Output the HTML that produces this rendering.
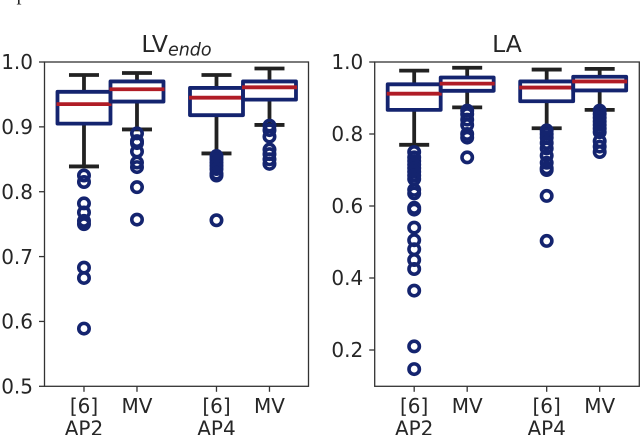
<!DOCTYPE html>
<html lang="en">
<head>
<meta charset="utf-8">
<title>Boxplots LV endo and LA</title>
<style>
html,body{margin:0;padding:0;background:#fff;width:640px;height:435px;overflow:hidden}
svg{display:block}
text{font-family:"DejaVu Sans","Liberation Sans",sans-serif;fill:#262626}
</style>
</head>
<body>
<svg id="chart" xmlns="http://www.w3.org/2000/svg" width="640" height="435" viewBox="0 0 640 435">
<text x="21.5" y="0" text-anchor="middle" style="font-family:'Liberation Serif',serif;font-size:20px">p</text>
</svg>
<script>
// Shared categories
const categoriesTop = ['[6]', 'MV', '[6]', 'MV'];
const categoriesBottom = ['AP2', '', 'AP4', ''];
const categoryPositions = [1, 2, 3.5, 4.5];

// LV endo panel
const lvTicks = [0.5, 0.6, 0.7, 0.8, 0.9, 1.0];
const lvQ1 = [0.905, 0.939, 0.918, 0.942];
const lvMedian = [0.935, 0.958, 0.945, 0.961];
const lvQ3 = [0.954, 0.970, 0.960, 0.970];
const lvWhiskerLow = [0.839, 0.896, 0.859, 0.903];
const lvWhiskerHigh = [0.980, 0.983, 0.980, 0.990];
const lvFliers = [
  [0.825, 0.815, 0.782, 0.768, 0.755, 0.750, 0.683, 0.667, 0.589],
  [0.890, 0.878, 0.875, 0.862, 0.845, 0.838, 0.807, 0.757],
  [0.855, 0.850, 0.845, 0.840, 0.835, 0.828, 0.825, 0.756],
  [0.902, 0.895, 0.885, 0.865, 0.858, 0.850, 0.843]
];

// LA panel
const laTicks = [0.2, 0.4, 0.6, 0.8, 1.0];
const laQ1 = [0.867, 0.920, 0.891, 0.921];
const laMedian = [0.912, 0.940, 0.929, 0.946];
const laQ3 = [0.938, 0.957, 0.946, 0.959];
const laWhiskerLow = [0.770, 0.874, 0.816, 0.867];
const laWhiskerHigh = [0.976, 0.984, 0.979, 0.981];
const laFliers = [
  [0.750, 0.735, 0.725, 0.715, 0.705, 0.695, 0.685, 0.675, 0.645, 0.635, 0.595, 0.590, 0.540, 0.505, 0.480, 0.450, 0.425, 0.365, 0.210, 0.147],
  [0.865, 0.855, 0.840, 0.825, 0.800, 0.790, 0.735],
  [0.810, 0.800, 0.790, 0.775, 0.760, 0.740, 0.720, 0.705, 0.700, 0.628, 0.503],
  [0.865, 0.855, 0.845, 0.835, 0.825, 0.815, 0.805, 0.780, 0.765, 0.750]
];

const NS = 'http://www.w3.org/2000/svg';
const svg = document.getElementById('chart');

function line(parent, x1, y1, x2, y2, color, width) {
  const el = document.createElementNS(NS, 'line');
  el.setAttribute('x1', x1);
  el.setAttribute('y1', y1);
  el.setAttribute('x2', x2);
  el.setAttribute('y2', y2);
  el.setAttribute('stroke', color);
  el.setAttribute('stroke-width', width);
  parent.appendChild(el);
  return el;
}

function label(parent, x, y, str, size, anchor) {
  const el = document.createElementNS(NS, 'text');
  el.setAttribute('x', x);
  el.setAttribute('y', y);
  el.setAttribute('font-size', size);
  el.setAttribute('text-anchor', anchor);
  el.textContent = str;
  parent.appendChild(el);
  return el;
}

function drawPanel(p) {
  const g = document.createElementNS(NS, 'g');
  
  
  svg.appendChild(g);

  const sx = v => p.left + (v - p.xMin) * p.unit;
  const sy = v => p.top + (p.yMax - v) * p.pxPerValue;
  const boxColor = '#14246f', whiskerColor = '#222222', medianColor = '#b01c26', spine = '#333333';
  const thick = 3.8;

  categoryPositions.forEach((pos, i) => {
    const x = sx(pos);

    const whiskerLow = line(g, x, sy(p.q1[i]), x, sy(p.low[i]), whiskerColor, thick);
    
    

    const whiskerHigh = line(g, x, sy(p.q3[i]), x, sy(p.high[i]), whiskerColor, thick);
    
    

    const capLow = line(g, x - 15, sy(p.low[i]), x + 15, sy(p.low[i]), whiskerColor, thick);
    
    

    const capHigh = line(g, x - 15, sy(p.high[i]), x + 15, sy(p.high[i]), whiskerColor, thick);
    
    
  });

  categoryPositions.forEach((pos, i) => {
    const x = sx(pos);
    const half = p.unit / 2;

    const box = document.createElementNS(NS, 'rect');
    
    
    box.setAttribute('x', x - half);
    box.setAttribute('y', sy(p.q3[i]));
    box.setAttribute('width', 2 * half);
    box.setAttribute('height', sy(p.q1[i]) - sy(p.q3[i]));
    box.setAttribute('fill', 'none');
    box.setAttribute('stroke', boxColor);
    box.setAttribute('stroke-width', thick);
    box.setAttribute('stroke-linejoin', 'round');
    g.appendChild(box);

    const median = line(g, x - half - 1, sy(p.median[i]), x + half + 1, sy(p.median[i]), medianColor, thick);
    
    

    p.fliers[i].forEach(v => {
      const c = document.createElementNS(NS, 'circle');
      
      
      c.setAttribute('cx', x);
      c.setAttribute('cy', sy(v));
      c.setAttribute('r', 5.2);
      c.setAttribute('fill', 'none');
      c.setAttribute('stroke', boxColor);
      c.setAttribute('stroke-width', 3.6);
      g.appendChild(c);
    });
  });

  const frame = document.createElementNS(NS, 'rect');
  
  
  frame.setAttribute('x', p.left);
  frame.setAttribute('y', p.top);
  frame.setAttribute('width', p.width);
  frame.setAttribute('height', p.height);
  frame.setAttribute('fill', 'none');
  frame.setAttribute('stroke', spine);
  frame.setAttribute('stroke-width', 1.3);
  g.appendChild(frame);

  p.ticks.forEach(t => {
    const tick = line(g, p.left - 5.5, sy(t), p.left, sy(t), spine, 1.3);
    
    
    const txt = label(g, p.left - 11.5, sy(t) + 7.2, t.toFixed(1), 20, 'end');
    
    
  });

  categoryPositions.forEach((pos, i) => {
    const x = sx(pos);
    const tick = line(g, x, p.top + p.height, x, p.top + p.height + 5.5, spine, 1.3);
    
    
    const top = label(g, x, 413, categoriesTop[i], 20, 'middle');
    
    
    if (categoriesBottom[i]) {
      const bottom = label(g, x, 435.5, categoriesBottom[i], 20, 'middle');
      
      
    }
  });

  const title = label(g, p.left + p.width / 2, 52, p.title, 23.5, 'middle');
  
  
  if (p.subtitle) {
    const sub = document.createElementNS(NS, 'tspan');
    sub.setAttribute('dy', 3.5);
    sub.setAttribute('font-size', 17.5);
    sub.setAttribute('font-style', 'italic');
    sub.textContent = p.subtitle;
    title.appendChild(sub);
  }
}

drawPanel({
  name: 'lv-endo', title: 'LV', subtitle: 'endo',
  left: 44.5, top: 62, width: 264, height: 324.3, unit: 53, xMin: 0.255,
  yMax: 1.0, pxPerValue: 648.6, ticks: lvTicks,
  q1: lvQ1, median: lvMedian, q3: lvQ3, low: lvWhiskerLow, high: lvWhiskerHigh, fliers: lvFliers
});
drawPanel({
  name: 'la', title: 'LA', subtitle: '',
  left: 374.7, top: 62, width: 264.6, height: 324.3, unit: 53, xMin: 0.255,
  yMax: 1.0, pxPerValue: 360, ticks: laTicks,
  q1: laQ1, median: laMedian, q3: laQ3, low: laWhiskerLow, high: laWhiskerHigh, fliers: laFliers
});
</script>
</body>
</html>
